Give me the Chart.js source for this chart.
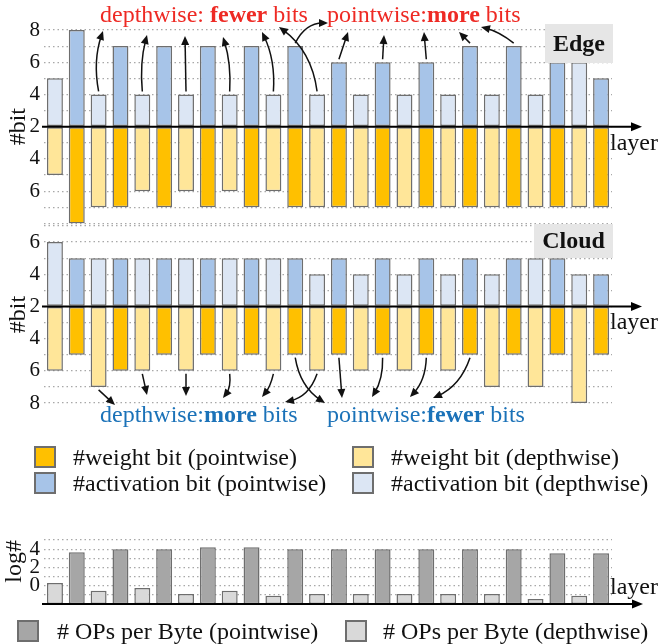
<!DOCTYPE html>
<html>
<head>
<meta charset="utf-8">
<script src="https://cdn.jsdelivr.net/npm/chart.js@4.4.0/dist/chart.umd.min.js"></script>
<style>
  html, body { margin: 0; padding: 0; background: #fff; }
  body { width: 659px; height: 644px; position: relative; overflow: hidden; font-family: "Liberation Serif", serif; }
  canvas { position: absolute; left: 0; }
  .lg { position: absolute; font-size: 24px; line-height: 26px; color: #111; white-space: nowrap; }
  .sw { position: absolute; box-sizing: border-box; border: 2px solid #6e6e6e; }
</style>
</head>
<body>
<canvas id="edge" width="659" height="240" style="top:0px"></canvas>
<canvas id="cloud" width="659" height="240" style="top:200px"></canvas>
<canvas id="ops" width="659" height="108" style="top:516px"></canvas>
<div id="legend"></div>
<script>
// layers alternate depthwise / pointwise
const layers = ['dw1','pw1','dw2','pw2','dw3','pw3','dw4','pw4','dw5','pw5','dw6','pw6','dw7',
                'pw7','dw8','pw8','dw9','pw9','dw10','pw10','dw11','pw11','dw12','pw12','dw13','pw13'];

const edgeActBits     = [5,8,4,7,4,7,4,7,4,7,4,7,4,6,4,6,4,6,4,7,4,7,4,6,6,5];
const edgeWeightBits  = [5,8,7,7,6,7,6,7,6,7,6,7,7,7,7,7,7,7,7,7,7,7,7,7,7,7];
const cloudActBits    = [6,5,5,5,5,5,5,5,5,5,5,5,4,5,4,5,4,5,4,5,4,5,5,5,4,4];
const cloudWeightBits = [6,5,7,6,6,5,6,5,6,5,6,5,6,5,6,5,6,5,6,5,7,5,7,5,8,5];
const opsPerByteLog   = [0.3,3.65,-0.55,4.0,-0.25,4.0,-0.9,4.2,-0.55,4.2,-1.1,4.0,-0.9,
                         4.0,-0.9,4.0,-0.9,4.0,-0.9,4.0,-0.9,4.0,-1.45,3.55,-1.1,3.55];

const bitBase = 2;
const edgeUpperTicks = [8,6,4,2], edgeLowerTicks = [4,6];
const cloudUpperTicks = [6,4,2], cloudLowerTicks = [4,6,8];
const opsTicks = [4,2,0];
const opsBase = -2;

const ACT_PW = '#A7C4E8', ACT_DW = '#DCE6F4';
const W_PW = '#FFC000', W_DW = '#FFE699';
const OPS_PW = '#A6A6A6', OPS_DW = '#D9D9D9';
const EDGE = '#6e6e6e';
const GRID = '#a8a8a8';
const RED = '#EE2A24', BLUE = '#1B72B8';
const SERIF = '"Liberation Serif", "Times New Roman", serif';

const isPw = i => layers[i].startsWith('pw');

// annotation arrows: layer index -> end point (page px), bend
const edgeArrows = [
  {i: 2, to: [103, 31], bend: -8}, {i: 4, to: [147, 35], bend: -5},
  {i: 6, to: [185, 36], bend: 0},  {i: 8, to: [223, 37], bend: 5},
  {i: 10, to: [262, 32], bend: 8}, {i: 12, to: [279, 27], bend: 16},
  {i: 11, to: [328, 23], bend: -12},
  {i: 13, to: [348, 32], bend: 0}, {i: 15, to: [384, 35], bend: 0},
  {i: 17, to: [424, 32], bend: 0}, {i: 19, to: [459, 32], bend: 0},
  {i: 21, to: [481, 27], bend: 4}
];
const cloudArrows = [
  {i: 2, to: [115, 405], bend: 0}, {i: 4, to: [147, 395], bend: 0},
  {i: 6, to: [186, 396], bend: 0}, {i: 8, to: [223, 398], bend: -5},
  {i: 10, to: [262, 397], bend: -3}, {i: 12, to: [285, 402], bend: -12},
  {i: 11, to: [325, 403], bend: 12},
  {i: 13, to: [342, 398], bend: 0}, {i: 15, to: [372, 397], bend: -6},
  {i: 17, to: [410, 397], bend: -8}, {i: 19, to: [433, 398], bend: -12}
];

function arrow(ctx, x0, y0, x1, y1, bend) {
  const dx = x1 - x0, dy = y1 - y0, len = Math.hypot(dx, dy);
  const cx = (x0 + x1) / 2 + (-dy / len) * bend, cy = (y0 + y1) / 2 + (dx / len) * bend;
  const a = Math.atan2(y1 - cy, x1 - cx);
  ctx.beginPath();
  ctx.moveTo(x0, y0);
  ctx.quadraticCurveTo(cx, cy, x1 - 5 * Math.cos(a), y1 - 5 * Math.sin(a));
  ctx.stroke();
  ctx.beginPath();
  ctx.moveTo(x1, y1);
  ctx.lineTo(x1 - 9 * Math.cos(a) + 4 * Math.sin(a), y1 - 9 * Math.sin(a) - 4 * Math.cos(a));
  ctx.lineTo(x1 - 9 * Math.cos(a) - 4 * Math.sin(a), y1 - 9 * Math.sin(a) + 4 * Math.cos(a));
  ctx.closePath();
  ctx.fill();
}

function richText(ctx, x, y, parts, color) {
  ctx.fillStyle = color;
  ctx.textBaseline = 'alphabetic';
  ctx.textAlign = 'left';
  parts.forEach(([txt, bold]) => {
    ctx.font = (bold ? 'bold ' : '') + '24px ' + SERIF;
    ctx.fillText(txt, x, y);
    x += ctx.measureText(txt).width;
  });
}

function axisArrow(ctx, x0, x1, y) {
  ctx.save();
  ctx.strokeStyle = '#000';
  ctx.fillStyle = '#000';
  ctx.lineWidth = 2;
  ctx.beginPath();
  ctx.moveTo(x0, y);
  ctx.lineTo(x1 - 8, y);
  ctx.stroke();
  ctx.beginPath();
  ctx.moveTo(x1, y);
  ctx.lineTo(x1 - 11, y - 4.5);
  ctx.lineTo(x1 - 11, y + 4.5);
  ctx.closePath();
  ctx.fill();
  ctx.restore();
}

function boxLabel(ctx, x, y, w, h, text) {
  ctx.save();
  ctx.fillStyle = '#e6e6e6';
  ctx.fillRect(x, y, w, h);
  ctx.fillStyle = '#111';
  ctx.font = 'bold 24px ' + SERIF;
  ctx.textAlign = 'center';
  ctx.textBaseline = 'middle';
  ctx.fillText(text, x + w / 2, y + h / 2 + 1);
  ctx.restore();
}

function bitChart(id, act, weight, yMin, yMax, upper, lower, pad, top, deco) {
  return new Chart(document.getElementById(id), {
    type: 'bar',
    data: {
      labels: layers,
      datasets: [
        {
          label: 'activation',
          data: act.map(b => b - bitBase),
          backgroundColor: c => isPw(c.dataIndex) ? ACT_PW : ACT_DW
        },
        {
          label: 'weight',
          data: weight.map(b => -(b - bitBase)),
          backgroundColor: c => isPw(c.dataIndex) ? W_PW : W_DW
        }
      ]
    },
    options: {
      responsive: false,
      animation: false,
      devicePixelRatio: 1,
      layout: { padding: pad },
      datasets: {
        bar: { borderColor: EDGE, borderWidth: 1.5, borderSkipped: false,
               barPercentage: 0.73, categoryPercentage: 1.0 }
      },
      scales: {
        x: { stacked: true, display: false },
        y: {
          stacked: true, min: yMin, max: yMax,
          afterFit: s => { s.width = 44; },
          border: { display: false, dash: [1.5, 3] },
          grid: { color: GRID, lineWidth: 1.2, drawTicks: false },
          ticks: {
            stepSize: 1, autoSkip: false, maxTicksLimit: 30, padding: 4, color: '#111',
            font: { family: SERIF, size: 21 },
            callback: v => {
              const b = Math.abs(v) + bitBase;
              if (v >= 0) return upper.includes(b) ? String(b) : '';
              return lower.includes(b) ? String(b) : '';
            }
          },
          title: { display: true, text: '#bit', color: '#111', padding: { top: 4, bottom: 0 },
                   font: { family: SERIF, size: 24 } }
        }
      },
      plugins: { legend: { display: false }, tooltip: { enabled: false } }
    },
    plugins: [{
      id: id + 'Deco',
      afterDatasetsDraw(chart) {
        const ctx = chart.ctx, xs = chart.scales.x, ys = chart.scales.y;
        const y0 = ys.getPixelForValue(0);
        axisArrow(ctx, 42, 642, y0);
        ctx.save();
        ctx.fillStyle = '#111';
        ctx.font = '24px ' + SERIF;
        ctx.textAlign = 'left';
        ctx.fillText('layer', chart.chartArea.right - 2, y0 + 23);
        ctx.restore();
        deco(chart, ctx, xs, ys, top);
      }
    }]
  });
}

bitChart('edge', edgeActBits, edgeWeightBits, -6, 6, edgeUpperTicks, edgeLowerTicks,
  { top: 30, right: 47, bottom: 15, left: 0 }, 0,
  (chart, ctx, xs, ys, top) => {
    boxLabel(ctx, 545, 24 - top, 68, 39, 'Edge');
    ctx.save();
    ctx.strokeStyle = '#111'; ctx.fillStyle = '#111'; ctx.lineWidth = 1.5;
    edgeArrows.forEach(a => {
      const x = xs.getPixelForValue(a.i);
      const y = ys.getPixelForValue(edgeActBits[a.i] - bitBase) - 3;
      arrow(ctx, x, y, a.to[0], a.to[1] - top, a.bend);
    });
    ctx.restore();
    richText(ctx, 100, 22 - top, [['depthwise: ', false], ['fewer', true], [' bits', false]], RED);
    richText(ctx, 327, 22 - top, [['pointwise:', false], ['more', true], [' bits', false]], RED);
  });

bitChart('cloud', cloudActBits, cloudWeightBits, -6, 5, cloudUpperTicks, cloudLowerTicks,
  { top: 26, right: 47, bottom: 37, left: 0 }, 200,
  (chart, ctx, xs, ys, top) => {
    boxLabel(ctx, 534, 224 - top, 79, 34, 'Cloud');
    ctx.save();
    ctx.strokeStyle = '#111'; ctx.fillStyle = '#111'; ctx.lineWidth = 1.5;
    cloudArrows.forEach(a => {
      const x = xs.getPixelForValue(a.i);
      const y = ys.getPixelForValue(-(cloudWeightBits[a.i] - bitBase)) + 3;
      arrow(ctx, x, y, a.to[0], a.to[1] - top, a.bend);
    });
    ctx.restore();
    richText(ctx, 100, 422 - top, [['depthwise:', false], ['more', true], [' bits', false]], BLUE);
    richText(ctx, 327, 422 - top, [['pointwise:', false], ['fewer', true], [' bits', false]], BLUE);
  });

new Chart(document.getElementById('ops'), {
  type: 'bar',
  data: {
    labels: layers,
    datasets: [{
      label: 'OPs per Byte',
      data: opsPerByteLog.map(v => [opsBase, v]),
      backgroundColor: c => isPw(c.dataIndex) ? OPS_PW : OPS_DW
    }]
  },
  options: {
    responsive: false,
    animation: false,
    devicePixelRatio: 1,
    layout: { padding: { top: 24, right: 47, bottom: 20, left: 0 } },
    datasets: {
      bar: { borderColor: EDGE, borderWidth: 1.5, borderSkipped: false,
             barPercentage: 0.73, categoryPercentage: 1.0 }
    },
    scales: {
      x: { display: false },
      y: {
        min: opsBase, max: 5,
        afterFit: s => { s.width = 44; },
        border: { display: false, dash: [1.5, 3] },
        grid: { color: GRID, lineWidth: 1.2, drawTicks: false },
        ticks: {
          stepSize: 1, autoSkip: false, maxTicksLimit: 30, padding: 4, color: '#111',
          font: { family: SERIF, size: 21, lineHeight: 0.9 },
          callback: v => opsTicks.includes(v) ? String(v) : ''
        },
        title: { display: true, text: 'log#', align: 'end', color: '#111',
                 padding: { top: 0, bottom: 0 }, font: { family: SERIF, size: 24 } }
      }
    },
    plugins: { legend: { display: false }, tooltip: { enabled: false } }
  },
  plugins: [{
    id: 'opsDeco',
    afterDatasetsDraw(chart) {
      const ctx = chart.ctx;
      const y0 = chart.chartArea.bottom;
      axisArrow(ctx, 42, 643, y0);
      ctx.save();
      ctx.fillStyle = '#111';
      ctx.font = '24px ' + SERIF;
      ctx.fillText('layer', chart.chartArea.right - 2, y0 - 10);
      ctx.restore();
    }
  }]
});

// legends
const legendItems = [
  { text: '#weight bit (pointwise)', color: W_PW, x: 34, y: 446, tx: 73 },
  { text: '#weight bit (depthwise)', color: W_DW, x: 352, y: 446, tx: 391 },
  { text: '#activation bit (pointwise)', color: ACT_PW, x: 34, y: 472, tx: 73 },
  { text: '#activation bit (depthwise)', color: ACT_DW, x: 352, y: 472, tx: 391 },
  { text: '# OPs per Byte (pointwise)', color: OPS_PW, x: 17, y: 620, tx: 57 },
  { text: '# OPs per Byte (depthwise)', color: OPS_DW, x: 345, y: 620, tx: 383 }
];
const legendEl = document.getElementById('legend');
legendItems.forEach(it => {
  const sw = document.createElement('div');
  sw.className = 'sw';
  sw.style.cssText = `left:${it.x}px;top:${it.y}px;width:22px;height:22px;background:${it.color}`;
  const lb = document.createElement('div');
  lb.className = 'lg';
  lb.style.cssText = `left:${it.tx}px;top:${it.y - 2}px`;
  lb.textContent = it.text;
  legendEl.appendChild(sw);
  legendEl.appendChild(lb);
});
</script>
</body>
</html>
